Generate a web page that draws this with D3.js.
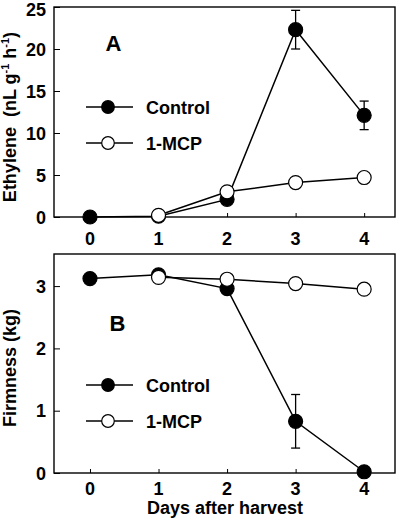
<!DOCTYPE html>
<html>
<head>
<meta charset="utf-8">
<script src="https://cdn.jsdelivr.net/npm/d3@7"></script>
<style>
  html, body { margin: 0; padding: 0; background: #fff; }
  svg { display: block; }
  text { font-family: "Liberation Sans", Arial, sans-serif; font-weight: bold; fill: #000; }
</style>
</head>
<body>
<svg id="chart" width="400" height="519"></svg>
<script>
// ---- data ----
const days = [0, 1, 2, 3, 4];
const ethyleneControl = [0, 0.1, 2.1, 22.3, 12.1];
const ethyleneControlErr = [null, null, null, 2.3, 1.7];
const ethyleneMCP = [null, 0.2, 3.0, 4.1, 4.7];
const firmnessControl = [3.12, 3.18, 2.96, 0.83, 0.02];
const firmnessControlErr = [null, null, null, 0.43, null];
const firmnessMCP = [null, 3.14, 3.11, 3.04, 2.95];
const ethyleneTicks = [0, 5, 10, 15, 20, 25];
const firmnessTicks = [0, 1, 2, 3];
const seriesNames = ["Control", "1-MCP"];

const svg = d3.select("#chart");
const x = d3.scaleLinear().domain([-0.525, 4.45]).range([54, 395]);

function panel(cfg) {
  const y = d3.scaleLinear().domain(cfg.yDomain).range([cfg.bottom, cfg.top]);
  const g = svg.append("g");

  // frame
  g.append("rect")
    .attr("x", x.range()[0]).attr("y", cfg.top)
    .attr("width", x.range()[1] - x.range()[0]).attr("height", cfg.bottom - cfg.top)
    .attr("fill", "none").attr("stroke", "#000").attr("stroke-width", 1.4);

  // y axis
  const ya = g.append("g").attr("transform", `translate(${x.range()[0]},0)`)
    .call(d3.axisRight(y).tickValues(cfg.yTicks).tickSize(6).tickFormat(""));
  ya.select(".domain").remove();
  ya.selectAll("line").attr("stroke", "#000").attr("stroke-width", 1);
  g.selectAll(".ylab").data(cfg.yTicks).enter().append("text")
    .attr("x", 46).attr("y", d => Math.max(y(d) + 6.5, 16))
    .attr("text-anchor", "end").attr("font-size", 18).text(d => d);

  // x axis ticks
  const xa = g.append("g").attr("transform", `translate(0,${cfg.bottom})`)
    .call(d3.axisTop(x).tickValues(days).tickSize(4).tickFormat(""));
  xa.select(".domain").remove();
  xa.selectAll("line").attr("stroke", "#000").attr("stroke-width", 1);
  g.selectAll(".xlab").data(days).enter().append("text")
    .attr("x", d => x(d)).attr("y", cfg.bottom + cfg.xLabOffset)
    .attr("text-anchor", "middle").attr("font-size", 18).text(d => d);

  // lines
  const line = d3.line().defined(d => d[1] !== null).x(d => x(d[0])).y(d => y(d[1]));
  const ctrl = days.map((d, i) => [d, cfg.control[i]]);
  const mcp = days.map((d, i) => [d, cfg.mcp[i]]);
  g.append("path").datum(ctrl).attr("d", line).attr("fill", "none").attr("stroke", "#000").attr("stroke-width", 1.5);
  g.append("path").datum(mcp).attr("d", line).attr("fill", "none").attr("stroke", "#000").attr("stroke-width", 1.5);

  // error bars
  days.forEach((d, i) => {
    const e = cfg.err[i];
    if (e === null) return;
    const v = cfg.control[i];
    const cx = x(d);
    g.append("line").attr("x1", cx).attr("x2", cx).attr("y1", y(v + e)).attr("y2", y(v - e))
      .attr("stroke", "#000").attr("stroke-width", 1.3);
    [v + e, v - e].forEach(w => {
      g.append("line").attr("x1", cx - 4.5).attr("x2", cx + 4.5).attr("y1", y(w)).attr("y2", y(w))
        .attr("stroke", "#000").attr("stroke-width", 1.3);
    });
  });

  // markers
  g.selectAll(".cm").data(ctrl.filter(d => d[1] !== null)).enter().append("circle")
    .attr("cx", d => x(d[0])).attr("cy", d => y(d[1])).attr("r", 7)
    .attr("fill", "#000").attr("stroke", "#000").attr("stroke-width", 1.2);
  g.selectAll(".mm").data(mcp.filter(d => d[1] !== null)).enter().append("circle")
    .attr("cx", d => x(d[0])).attr("cy", d => y(d[1])).attr("r", 7)
    .attr("fill", "#fff").attr("stroke", "#000").attr("stroke-width", 1.2);

  // panel letter
  g.append("text").attr("x", cfg.letterX).attr("y", cfg.letterY)
    .attr("text-anchor", "middle").attr("font-size", 22).text(cfg.letter);

  // legend
  seriesNames.forEach((name, i) => {
    const ly = cfg.legendY[i];
    g.append("line").attr("x1", 86).attr("x2", 133).attr("y1", ly).attr("y2", ly)
      .attr("stroke", "#000").attr("stroke-width", 1.5);
    g.append("circle").attr("cx", 108).attr("cy", ly).attr("r", 6.3)
      .attr("fill", i === 0 ? "#000" : "#fff").attr("stroke", "#000").attr("stroke-width", 1.2);
    g.append("text").attr("x", 146).attr("y", ly + 6.5).attr("font-size", 18).text(name);
  });

  // y title
  const t = g.append("text")
    .attr("transform", `translate(16,${cfg.titleY}) rotate(-90)`)
    .attr("text-anchor", "middle").attr("font-size", 18);
  cfg.title(t);
}

panel({
  top: 7, bottom: 217, yDomain: [0, 25], yTicks: ethyleneTicks,
  control: ethyleneControl, mcp: ethyleneMCP, err: ethyleneControlErr,
  xLabOffset: 28, letter: "A", letterX: 113.5, letterY: 51,
  legendY: [107, 143], titleY: 117,
  title: t => {
    t.append("tspan").text("Ethylene\u00a0\u00a0(nL g");
    t.append("tspan").attr("font-size", 11).attr("dy", -7).text("-1");
    t.append("tspan").attr("dy", 7).text(" h");
    t.append("tspan").attr("font-size", 11).attr("dy", -7).text("-1");
    t.append("tspan").attr("dy", 7).text(")");
  }
});

panel({
  top: 254, bottom: 473, yDomain: [0, 3.515], yTicks: firmnessTicks,
  control: firmnessControl, mcp: firmnessMCP, err: firmnessControlErr,
  xLabOffset: 22, letter: "B", letterX: 117.5, letterY: 331,
  legendY: [385, 421], titleY: 368,
  title: t => t.text("Firmness (kg)")
});

svg.append("text").attr("x", 225).attr("y", 514).attr("text-anchor", "middle")
  .attr("font-size", 18).text("Days after harvest");
</script>
</body>
</html>
